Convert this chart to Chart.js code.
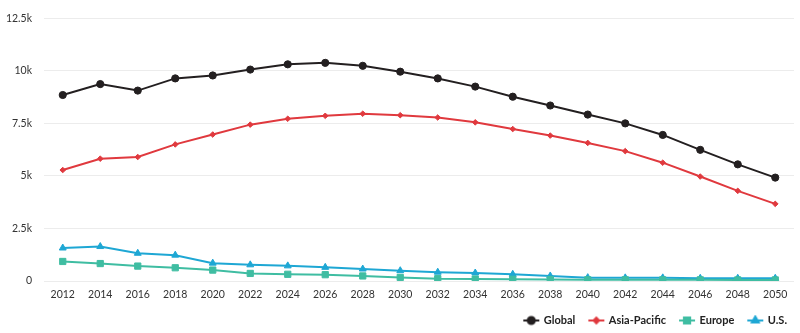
<!DOCTYPE html>
<html>
<head>
<meta charset="utf-8">
<script src="https://cdn.jsdelivr.net/npm/chart.js@4.4.1/dist/chart.umd.min.js"></script>
<style>
    html, body { margin: 0; padding: 0; background: #fff; }
    #wrap { width: 800px; height: 333px; position: relative; }
</style>
</head>
<body>
<div id="wrap"><canvas id="lineChart"></canvas></div>
<script>
// Chart data
const years = ['2012', '2014', '2016', '2018', '2020', '2022', '2024', '2026', '2028', '2030',
               '2032', '2034', '2036', '2038', '2040', '2042', '2044', '2046', '2048', '2050'];
const globalVals = [8850, 9370, 9060, 9640, 9780, 10060, 10310, 10380, 10240, 9960,
                    9640, 9250, 8770, 8350, 7920, 7500, 6950, 6240, 5550, 4920];
const asiaVals = [5280, 5820, 5900, 6500, 6970, 7440, 7720, 7860, 7960, 7890,
                  7780, 7550, 7230, 6920, 6570, 6180, 5630, 4970, 4290, 3670];
const europeVals = [930, 830, 710, 630, 520, 360, 320, 300, 240, 170,
                    110, 90, 80, 70, 60, 60, 55, 55, 50, 50];
const usVals = [1570, 1640, 1320, 1230, 850, 770, 720, 650, 570, 490,
                420, 380, 320, 240, 160, 150, 150, 130, 130, 130];
const yTicks = [0, 2500, 5000, 7500, 10000, 12500];

const seriesStyle = [
    { label: 'Global', data: globalVals, color: '#231f20', point: 'circle', radius: 3.6 },
    { label: 'Asia-Pacific', data: asiaVals, color: '#e0393e', point: 'rectRot', radius: 2.8 },
    { label: 'Europe', data: europeVals, color: '#3fbda2', point: 'rect', radius: 4.4 },
    { label: 'U.S.', data: usVals, color: '#1ea7d4', point: 'triangle', radius: 4 }
];

// Legend icon: short line with the marker in the middle
function legendIcon(s) {
    const c = document.createElement('canvas');
    c.width = 18;
    c.height = 12;
    const ctx = c.getContext('2d');
    ctx.strokeStyle = s.color;
    ctx.lineWidth = 2;
    ctx.beginPath();
    ctx.moveTo(1, 6);
    ctx.lineTo(17, 6);
    ctx.stroke();
    ctx.fillStyle = s.color;
    Chart.helpers.drawPoint(ctx, { pointStyle: s.point, radius: s.radius, borderWidth: 1, rotation: 0 }, 9, 6);
    return c;
}

// nudge the legend row a little to the right, like the original
const legendShift = {
    id: 'legendShift',
    afterLayout(chart) {
        chart.legend.left += 7;
        chart.legend.right += 7;
    }
};

const ctxLine = document.getElementById('lineChart').getContext('2d');
new Chart(ctxLine, {
    type: 'line',
    data: {
        labels: years,
        datasets: seriesStyle.map(s => ({
            label: s.label,
            data: s.data,
            borderColor: s.color,
            backgroundColor: s.color,
            pointStyle: s.point,
            pointRadius: s.radius,
            pointHoverRadius: s.radius,
            pointBorderWidth: 1,
            borderWidth: 2,
            tension: 0,
            fill: false
        }))
    },
    plugins: [legendShift],
    options: {
        responsive: true,
        maintainAspectRatio: false,
        animation: false,
        layout: { padding: { left: 0, right: 6, top: 4, bottom: -3 } },
        plugins: {
            tooltip: { enabled: false },
            legend: {
                position: 'bottom',
                align: 'end',
                labels: {
                    usePointStyle: true,
                    pointStyleWidth: 14,
                    padding: 14,
                    color: '#222',
                    font: { family: 'Lato', size: 11, weight: 'bold' },
                    generateLabels: chart => chart.data.datasets.map((ds, i) => ({
                        text: ds.label,
                        fillStyle: ds.borderColor,
                        strokeStyle: ds.borderColor,
                        fontColor: '#222',
                        lineWidth: 0,
                        pointStyle: legendIcon(seriesStyle[i]),
                        datasetIndex: i,
                        hidden: false
                    }))
                }
            }
        },
        scales: {
            x: {
                offset: true,
                grid: { display: false, drawTicks: false },
                border: { display: false },
                afterFit: scale => { scale.height = 20; },
                ticks: {
                    color: '#333',
                    maxRotation: 0,
                    autoSkip: false,
                    padding: 7,
                    font: { family: 'Lato', size: 10.5 }
                }
            },
            y: {
                min: 0,
                max: 12500,
                afterBuildTicks: axis => { axis.ticks = yTicks.map(v => ({ value: v })); },
                afterFit: scale => { scale.width = 44; },
                grid: { color: '#ececec', drawTicks: false },
                border: { display: false },
                ticks: {
                    color: '#333',
                    padding: 12,
                    font: { family: 'Lato', size: 10.5 },
                    callback: v => v === 0 ? '0' : (v / 1000) + 'k'
                }
            }
        }
    }
});
</script>
</body>
</html>
